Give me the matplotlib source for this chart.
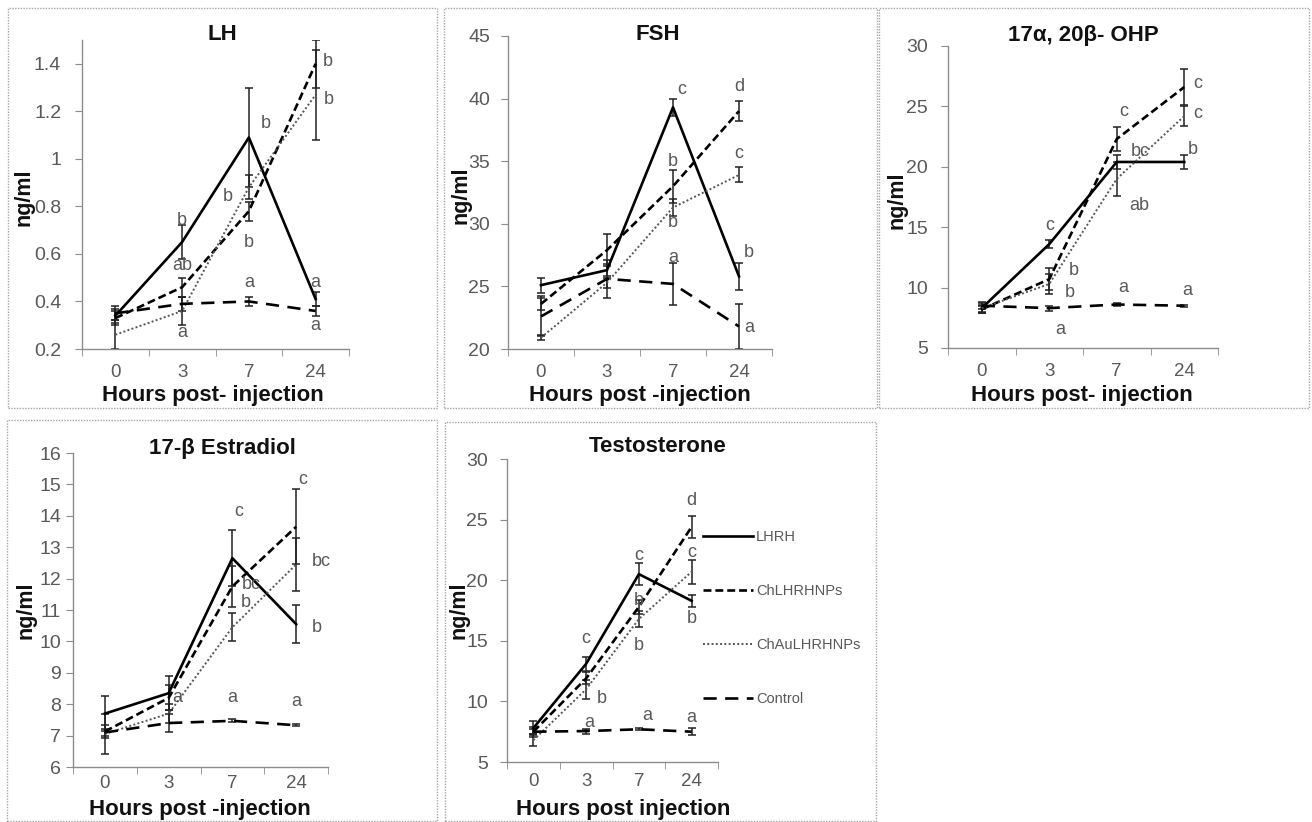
import matplotlib
matplotlib.use('Agg')
import matplotlib.pyplot as plt
from matplotlib.patches import Rectangle

plt.rcParams['font.family'] = ['Liberation Sans', 'DejaVu Sans']

W, H = 1312, 822

hours = ['0', '3', '7', '24']
series = ['LHRH', 'ChLHRHNPs', 'ChAuLHRHNPs', 'Control']

# means / errors, rows in series order
lh_mean = [[0.34, 0.65, 1.09, 0.41],
           [0.33, 0.46, 0.78, 1.40],
           [0.26, 0.36, 0.88, 1.27],
           [0.35, 0.39, 0.40, 0.36]]
lh_err = [[0.03, 0.07, 0.21, 0.03],
          [0.03, 0.04, 0.04, 0.10],
          [0.06, 0.06, 0.05, 0.19],
          [0.03, 0.03, 0.02, 0.02]]
lh_letters = [(1, 0.74, 'b'), (1, 0.55, 'ab'), (1, 0.27, 'a'),
              (2.25, 1.15, 'b'), (1.68, 0.84, 'b'), (2, 0.65, 'b'), (2, 0.48, 'a'),
              (3.18, 1.41, 'b'), (3.2, 1.25, 'b'), (3, 0.48, 'a'), (3, 0.30, 'a')]

fsh_mean = [[25.1, 26.3, 39.3, 25.8],
            [23.6, 27.9, 33.0, 39.0],
            [20.9, 25.3, 31.3, 33.9],
            [22.6, 25.6, 25.2, 21.8]]
fsh_err = [[0.6, 0.5, 0.7, 1.1],
           [0.5, 1.3, 1.3, 0.8],
           [0.2, 0.4, 0.7, 0.6],
           [1.6, 1.5, 1.7, 1.8]]
fsh_letters = [(2.13, 40.7, 'c'), (2, 35.0, 'b'), (2, 30.1, 'b'), (2, 27.3, 'a'),
               (3, 41.0, 'd'), (3, 35.6, 'c'), (3.15, 27.7, 'b'), (3.15, 21.7, 'a')]

ohp_mean = [[8.3, 13.6, 20.4, 20.4],
            [8.2, 10.7, 22.3, 26.6],
            [8.3, 10.3, 19.0, 24.2],
            [8.5, 8.3, 8.6, 8.5]]
ohp_err = [[0.3, 0.3, 0.6, 0.6],
           [0.3, 0.9, 1.0, 1.5],
           [0.4, 0.8, 1.4, 0.8],
           [0.3, 0.2, 0.1, 0.1]]
ohp_letters = [(1, 15.1, 'c'), (1.36, 11.4, 'b'), (1.3, 9.6, 'b'), (1.17, 6.5, 'a'),
               (2.1, 24.6, 'c'), (2.35, 21.3, 'bc'), (2.33, 16.8, 'ab'), (2.1, 10.0, 'a'),
               (3.2, 26.9, 'c'), (3.2, 24.4, 'c'), (3.12, 21.4, 'b'), (3.05, 9.8, 'a')]

e2_mean = [[7.7, 8.35, 12.65, 10.55],
           [7.13, 8.2, 11.75, 13.65],
           [7.05, 7.7, 10.45, 12.45],
           [7.1, 7.4, 7.47, 7.33]]
e2_err = [[0.55, 0.55, 0.9, 0.6],
          [0.2, 0.4, 0.65, 1.2],
          [0.65, 0.3, 0.45, 0.85],
          [0.1, 0.3, 0.05, 0.03]]
e2_letters = [(1.13, 8.2, 'a'),
              (2.1, 14.15, 'c'), (2.29, 11.8, 'bc'), (2.21, 11.25, 'b'), (2, 8.2, 'a'),
              (3.1, 15.15, 'c'), (3.4, 12.55, 'bc'), (3.32, 10.45, 'b'), (3, 8.1, 'a')]

tes_mean = [[7.8, 13.1, 20.5, 18.3],
            [7.5, 11.9, 17.8, 24.4],
            [6.8, 11.0, 16.8, 20.7],
            [7.5, 7.55, 7.7, 7.5]]
tes_err = [[0.6, 0.6, 0.9, 0.5],
           [0.4, 0.5, 0.6, 0.9],
           [0.5, 0.8, 0.7, 1.0],
           [0.2, 0.2, 0.1, 0.3]]
tes_letters = [(1, 15.2, 'c'), (1.3, 10.2, 'b'), (1.05, 8.3, 'a'),
               (2, 22.0, 'c'), (2, 18.3, 'b'), (2, 14.6, 'b'), (2.16, 8.8, 'a'),
               (3, 26.6, 'd'), (3, 22.3, 'c'), (3, 16.8, 'b'), (3, 8.7, 'a')]

styles = {
    'LHRH': dict(color='black', lw=1.9, ls='-'),
    'ChLHRHNPs': dict(color='black', lw=1.9, ls=(0, (3, 1.5))),
    'ChAuLHRHNPs': dict(color='#555555', lw=1.4, ls=(0, (1, 1.2))),
    'Control': dict(color='black', lw=1.9, ls=(0, (5, 3.2))),
}

GRAY = '#595959'
AXC = '#8c8c8c'

# layout in pixels: axes (left, top, right, bottom), frame (l, t, r, b),
# title (x, y), ylabel (x, y), xlabel (x, y), tick label pads
panels = [
    dict(title='LH', mean=lh_mean, err=lh_err, letters=lh_letters,
         ylim=(0.2, 1.5), yticks=[0.2, 0.4, 0.6, 0.8, 1.0, 1.2, 1.4],
         ytl=['0.2', '0.4', '0.6', '0.8', '1', '1.2', '1.4'],
         ax=(82, 40, 349, 349), frame=(8, 8, 437, 408), xpad=11, ypad=10,
         tpos=(222, 35), ypos=(24, 197), xpos=(213, 395), xlabel='Hours post- injection'),
    dict(title='FSH', mean=fsh_mean, err=fsh_err, letters=fsh_letters,
         ylim=(20, 45), yticks=[20, 25, 30, 35, 40, 45], ytl=None,
         ax=(508, 36, 772, 349), frame=(444, 8, 877, 408), xpad=11, ypad=8,
         tpos=(658, 35), ypos=(461, 195), xpos=(640, 395), xlabel='Hours post -injection'),
    dict(title='17α, 20β- OHP', mean=ohp_mean, err=ohp_err, letters=ohp_letters,
         ylim=(5, 30), yticks=[5, 10, 15, 20, 25, 30], ytl=None,
         ax=(948, 46, 1218, 348), frame=(879, 8, 1309, 408), xpad=11, ypad=9.4,
         tpos=(1083, 35), ypos=(897, 200), xpos=(1082, 395), xlabel='Hours post- injection'),
    dict(title='17-β Estradiol', mean=e2_mean, err=e2_err, letters=e2_letters,
         ylim=(6, 16), yticks=list(range(6, 17)), ytl=None,
         ax=(73, 453, 328, 767), frame=(7, 420, 437, 821), xpad=6, ypad=3.6,
         tpos=(222, 448), ypos=(26, 610), xpos=(200, 809), xlabel='Hours post -injection'),
    dict(title='Testosterone', mean=tes_mean, err=tes_err, letters=tes_letters,
         ylim=(5, 30), yticks=[5, 10, 15, 20, 25, 30], ytl=None,
         ax=(507, 459, 718, 762), frame=(445, 422, 876, 821), xpad=8, ypad=8.6,
         tpos=(658, 447), ypos=(459, 610), xpos=(623, 809), xlabel='Hours post injection'),
]


def fx(x):
    return x / W


def fy(y):
    return 1 - y / H


fig = plt.figure(figsize=(W / 100, H / 100), dpi=100)
fig.patch.set_facecolor('white')

xs = list(range(len(hours)))
handles = []
for p in panels:
    l, t, r, b = p['frame']
    fig.patches.append(Rectangle((fx(l), fy(b)), fx(r - l), (b - t) / H,
                                 transform=fig.transFigure, fill=False,
                                 edgecolor='#a6a6a6', lw=1.0, ls=(0, (1, 1))))
    l, t, r, b = p['ax']
    ax = fig.add_axes([fx(l), fy(b), fx(r - l), (b - t) / H])
    for i, name in enumerate(series):
        st = styles[name]
        ax.errorbar(xs, p['mean'][i], yerr=p['err'][i], fmt='none', ecolor='#222222',
                    elinewidth=1.1, capsize=3, capthick=1.1, zorder=2)
        ln, = ax.plot(xs, p['mean'][i], color=st['color'], lw=st['lw'], ls=st['ls'],
                      label=name, zorder=3)
        if p is panels[-1]:
            handles.append(ln)
    for x, y, s in p['letters']:
        ax.text(x, y, s, ha='center', va='center', fontsize=13, color=GRAY, zorder=4)
    ax.set_xlim(-0.5, 3.5)
    ax.set_ylim(*p['ylim'])
    ax.set_yticks(p['yticks'])
    if p['ytl']:
        ax.set_yticklabels(p['ytl'])
    ax.set_xticks(xs)
    ax.set_xticklabels(hours)
    ax.set_xticks([-0.5, 0.5, 1.5, 2.5, 3.5], minor=True)
    ax.tick_params(axis='x', which='major', length=0, labelsize=13.5, labelcolor=GRAY,
                   pad=p['xpad'])
    ax.tick_params(axis='x', which='minor', length=5, color=AXC, direction='out')
    ax.tick_params(axis='y', which='major', length=5, color=AXC, labelsize=14,
                   labelcolor=GRAY, pad=p['ypad'])
    for s in ['top', 'right']:
        ax.spines[s].set_visible(False)
    for s in ['left', 'bottom']:
        ax.spines[s].set_color(AXC)
        ax.spines[s].set_linewidth(1.0)
    ax.patch.set_alpha(0)

    fig.text(fx(p['tpos'][0]), fy(p['tpos'][1]), p['title'], ha='center', va='center',
             fontsize=16, fontweight='bold', color='#111111')
    fig.text(fx(p['ypos'][0]), fy(p['ypos'][1]), 'ng/ml', ha='center', va='center',
             rotation=90, fontsize=15.5, fontweight='bold', color='#111111')
    fig.text(fx(p['xpos'][0]), fy(p['xpos'][1]), p['xlabel'], ha='center', va='center',
             fontsize=16, fontweight='bold', color='#111111')

fig.legend(handles=handles, labels=series, loc='upper left',
           bbox_to_anchor=(fx(703), fy(530)), frameon=False, fontsize=10.5,
           labelcolor=GRAY, handlelength=3.4, handletextpad=0.25,
           labelspacing=2.75, borderpad=0, borderaxespad=0)

fig.savefig('out.png', dpi=100, facecolor='white')
